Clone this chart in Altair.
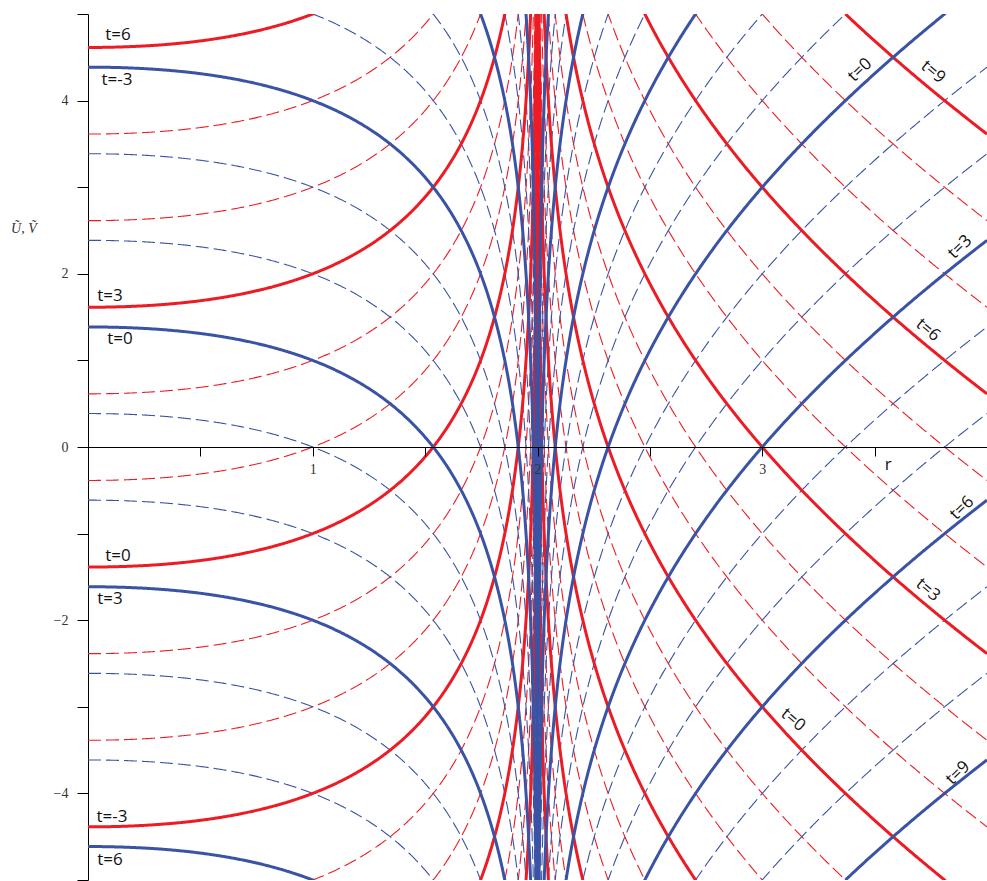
import numpy as np
import pandas as pd
import altair as alt

# ---- chart values -------------------------------------------------------
# tortoise coordinate r* = r + 2M ln|r - 2M| with M = 1 (horizon at r = 2)
HORIZON = 2.0
R_DOMAIN = [0, 4]
Y_DOMAIN = [-5, 5]

# time labels of the thick (solid) and thin (dashed) curves
T_SOLID = [-9, -6, -3, 0, 3, 6, 9]
T_DASHED = [-8, -7, -5, -4, -2, -1, 1, 2, 4, 5, 7, 8]
FAMILIES = ["red", "blue"]          # red: t - r*, blue: r* - t
FAMILY_COLORS = ["#ED1C24", "#3A53A4"]

X_TICKS = [0, 0.5, 1, 1.5, 2, 2.5, 3, 3.5, 4]
X_TICK_LABELS = [1, 2, 3]
Y_TICKS = [-5, -4, -3, -2, -1, 0, 1, 2, 3, 4, 5]
Y_TICK_LABELS = [-4, -2, 0, 2, 4]

LABEL_TEXT = ["t=6", "t=-3", "t=3", "t=0", "t=0", "t=3", "t=-3", "t=6",
              "t=0", "t=9", "t=3", "t=6", "t=6", "t=3", "t=0", "t=9"]
LABEL_R = [0.133, 0.129, 0.098, 0.142, 0.133, 0.098, 0.107, 0.098,
           3.435, 3.760, 3.880, 3.737, 3.889, 3.737, 3.137, 3.871]
LABEL_Y = [4.758, 4.238, 1.744, 1.247, -1.259, -1.755, -4.273, -4.769,
           4.353, 4.330, 2.309, 1.351, -0.704, -1.651, -3.152, -3.764]
LABEL_ANGLE = [0, 0, 0, 0, 0, 0, 0, 0,
               316, 40, 316, 40, 316, 40, 40, 316]

AXIS_TITLE_TEXT = ["Ũ, Ṽ", "r"]
AXIS_TITLE_R = [-0.285, 3.56]
AXIS_TITLE_Y = [2.52, -0.21]

# ---- curves -------------------------------------------------------------
dist = np.unique(np.concatenate([np.geomspace(1e-10, 2.0, 900),
                                 np.linspace(0.0, 2.0, 401)[1:]]))


def tortoise(r):
    return r + 2.0 * np.log(np.abs(r - HORIZON))


rows = []
cid = 0
for style, ts in (("solid", T_SOLID), ("dashed", T_DASHED)):
    for t in ts:
        for fam in FAMILIES:
            for r in (HORIZON - dist, HORIZON + dist):
                rs = tortoise(r)
                y = rs - t if fam == "blue" else t - rs
                m = (y >= Y_DOMAIN[0]) & (y <= Y_DOMAIN[1])
                if not m.any():
                    continue
                keep = m.copy()
                keep[1:] |= m[:-1]
                keep[:-1] |= m[1:]
                cid += 1
                for ri, yi in zip(r[keep], y[keep]):
                    rows.append((round(float(ri), 7), round(float(yi), 4),
                                 fam, style, cid))

curves = pd.DataFrame(rows, columns=["r", "y", "family", "style", "curve"])
labels = pd.DataFrame({"text": LABEL_TEXT, "r": LABEL_R, "y": LABEL_Y,
                       "angle": LABEL_ANGLE})
titles = pd.DataFrame({"text": AXIS_TITLE_TEXT, "r": AXIS_TITLE_R,
                       "y": AXIS_TITLE_Y})

x_scale = alt.Scale(domain=R_DOMAIN, nice=False, zero=False)
y_scale = alt.Scale(domain=Y_DOMAIN, nice=False, zero=False)
color_scale = alt.Scale(domain=FAMILIES, range=FAMILY_COLORS)

x_label_expr = "indexof([" + ",".join(str(v) for v in X_TICK_LABELS) + "], datum.value) >= 0 ? datum.label : ''"
y_label_expr = "indexof([" + ",".join(str(v) for v in Y_TICK_LABELS) + "], datum.value) >= 0 ? datum.label : ''"

x_enc = alt.X("r:Q", scale=x_scale,
              axis=alt.Axis(title="", values=X_TICKS, labelExpr=x_label_expr,
                            format="~g", labelOverlap=False, zindex=1,
                            offset=-433, tickSize=9, labelPadding=6,
                            domainColor="#000000", tickColor="#000000",
                            domainWidth=1, tickWidth=1, grid=False,
                            labelFont="Liberation Serif", labelFontSize=14,
                            labelColor="#333333", labelFlush=False))
y_enc = alt.Y("y:Q", scale=y_scale,
              axis=alt.Axis(title="", values=Y_TICKS, labelExpr=y_label_expr,
                            format="~g", labelOverlap=False,
                            tickSize=11, labelPadding=9,
                            domainColor="#000000", tickColor="#000000",
                            domainWidth=1, tickWidth=1, grid=False,
                            labelFont="Liberation Serif", labelFontSize=14,
                            labelColor="#333333", labelFlush=False))

base = alt.Chart(curves)


def line_layer(style, fam, width, dash=None):
    kw = dict(clip=True, strokeWidth=width, strokeCap="butt")
    if dash:
        kw["strokeDash"] = dash
    return base.transform_filter(
        (alt.datum.style == style) & (alt.datum.family == fam)
    ).mark_line(**kw).encode(
        x=x_enc, y=y_enc,
        color=alt.Color("family:N", scale=color_scale, legend=None),
        detail="curve:N",
    )


layers = [
    line_layer("dashed", "red", 1.1, [13, 5]),
    line_layer("dashed", "blue", 1.1, [13, 5]),
    line_layer("solid", "red", 3),
    line_layer("solid", "blue", 3),
]

label_layer = alt.Chart(labels).mark_text(
    font="Open Sans", fontSize=17, color="#111111",
    align="center", baseline="middle"
).encode(
    x=alt.X("r:Q", scale=x_scale), y=alt.Y("y:Q", scale=y_scale),
    text="text:N", angle=alt.Angle("angle:Q", scale=None),
)

title_layer_u = alt.Chart(titles.iloc[[0]]).mark_text(
    font="Liberation Serif", fontSize=14, fontStyle="italic",
    color="#333333", align="center", baseline="middle"
).encode(x=alt.X("r:Q", scale=x_scale), y=alt.Y("y:Q", scale=y_scale),
         text="text:N")

title_layer_r = alt.Chart(titles.iloc[[1]]).mark_text(
    font="Open Sans", fontSize=17, color="#111111",
    align="center", baseline="middle"
).encode(x=alt.X("r:Q", scale=x_scale), y=alt.Y("y:Q", scale=y_scale),
         text="text:N")

chart = alt.layer(*layers, label_layer, title_layer_u, title_layer_r).properties(
    width=899, height=866,
    autosize=alt.AutoSizeParams(type="none"),
    padding={"left": 88, "top": 14, "right": 0, "bottom": 1},
    background="#ffffff",
).configure_view(stroke="transparent")

chart.save("out.html", embed_options={"renderer": "svg", "actions": False})
